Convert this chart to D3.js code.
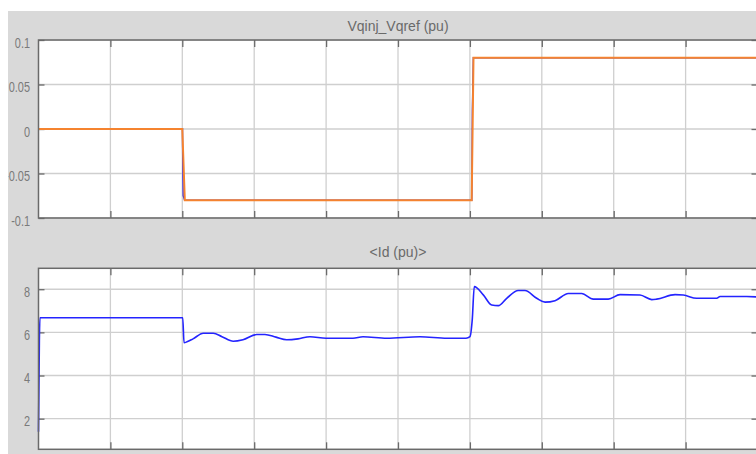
<!DOCTYPE html>
<html>
<head>
<meta charset="utf-8">
<script src="https://cdn.jsdelivr.net/npm/d3@7"></script>
<style>
  body { margin: 0; background: #fff; }
  svg { display: block; }
  text { font-family: "Liberation Sans", Arial, sans-serif; }
</style>
</head>
<body>
<script>
// time axis (s), 10 grid divisions, no labels shown
var time_ticks = [0.1, 0.2, 0.3, 0.4, 0.5, 0.6, 0.7, 0.8, 0.9];

// top plot: Vqinj (blue) and Vqref (orange)
var top_title = 'Vqinj_Vqref (pu)';
var top_ticks = [-0.1, -0.05, 0, 0.05, 0.1];
var top_tick_labels = ['-0.1', '-0.05', '0', '0.05', '0.1'];
var vqref_t = [0, 0.2, 0.2035, 0.6025, 0.605, 1.0];
var vqref_v = [0, 0, -0.08, -0.08, 0.08, 0.08];
var vqinj_t = [0, 0.2003, 0.2004, 0.2012, 0.2032, 0.6026, 0.6027, 0.6034, 0.6048, 1.0];
var vqinj_v = [0, 0, -0.02, -0.075, -0.08, -0.08, -0.07, 0.02, 0.08, 0.08];

// bottom plot: Id
var bot_title = '<Id (pu)>';
var bot_ticks = [2, 4, 6, 8];
var bot_tick_labels = ['2', '4', '6', '8'];
var id_t = [0, 0.0012, 0.002, 0.2006, 0.2024, 0.2065, 0.2149, 0.2292, 0.2431, 0.2552,
  0.2709, 0.2844, 0.3035, 0.315, 0.3303, 0.3452, 0.3609, 0.3776, 0.3999, 0.4374,
  0.4513, 0.4843, 0.5306, 0.5682, 0.5946, 0.6001, 0.6033, 0.6061, 0.6186, 0.6303,
  0.6395, 0.6512, 0.6673, 0.6766, 0.6929, 0.7045, 0.7184, 0.7369, 0.7555, 0.7716,
  0.7925, 0.8088, 0.8366, 0.8529, 0.8598, 0.8853, 0.8968, 0.9154, 0.9433, 0.9479,
  0.985, 1.0];
var id_v = [1.39, 5.6, 6.68, 6.68, 5.52, 5.56, 5.7, 5.96, 5.96, 5.8,
  5.59, 5.66, 5.9, 5.9, 5.78, 5.66, 5.7, 5.8, 5.73, 5.73,
  5.8, 5.73, 5.8, 5.73, 5.73, 5.8, 6.6, 8.12, 7.74, 7.27,
  7.24, 7.58, 7.94, 7.94, 7.58, 7.4, 7.47, 7.8, 7.8, 7.54,
  7.54, 7.75, 7.73, 7.52, 7.54, 7.75, 7.73, 7.58, 7.58, 7.66,
  7.66, 7.64];

var W = 756, H = 454;
var left = 38.5, right = 757.5;
var squeeze = 0.78; // scope tick font is narrow

var svg = d3.select('body').append('svg')
  .attr('width', W).attr('height', H);

// grey scope background
svg.append('rect')
  .attr('x', 8).attr('y', 11).attr('width', W - 8).attr('height', H - 11)
  .attr('fill', '#d9d9d9');

svg.append('clipPath').attr('id', 'panel')
  .append('rect').attr('x', 8).attr('y', 11).attr('width', W - 8).attr('height', H - 11);

var x = d3.scaleLinear().domain([0, 1]).range([left, right]);

function zip(ts, vs) {
  return ts.map(function(t, i) { return [t, vs[i]]; });
}

function draw_plot(top, bottom, domain, ticks, labels, title, titleY, series) {
  var y = d3.scaleLinear().domain(domain).range([bottom, top]);
  var g = svg.append('g').attr('clip-path', 'url(#panel)');

  g.append('rect')
    .attr('x', left).attr('y', top)
    .attr('width', right - left).attr('height', bottom - top)
    .attr('fill', '#fff');

  // grid
  g.append('g').selectAll('line').data(time_ticks).enter().append('line')
    .attr('x1', d => x(d)).attr('x2', d => x(d))
    .attr('y1', top).attr('y2', bottom)
    .attr('stroke', '#cfcfcf').attr('stroke-width', 1.3);
  g.append('g').selectAll('line').data(ticks).enter().append('line')
    .attr('x1', left).attr('x2', right)
    .attr('y1', d => y(d)).attr('y2', d => y(d))
    .attr('stroke', '#cfcfcf').attr('stroke-width', 1.3);

  // axes with inward ticks
  var yl = g.append('g').attr('transform', 'translate(' + left + ',0)')
    .call(d3.axisLeft(y).tickValues(ticks).tickSize(-6).tickPadding(9)
      .tickFormat(function(d, i) { return labels[i]; }));
  var yr = g.append('g').attr('transform', 'translate(' + right + ',0)')
    .call(d3.axisRight(y).tickValues(ticks).tickSize(-6).tickFormat(''));
  var xt = g.append('g').attr('transform', 'translate(0,' + top + ')')
    .call(d3.axisTop(x).tickValues(time_ticks).tickSize(-7).tickFormat(''));
  var xb = g.append('g').attr('transform', 'translate(0,' + bottom + ')')
    .call(d3.axisBottom(x).tickValues(time_ticks).tickSize(-7).tickFormat(''));
  [yl, yr, xt, xb].forEach(function(a) {
    a.select('.domain').remove();
    a.selectAll('.tick line').attr('stroke', '#6a6a6a').attr('stroke-width', 1.3);
  });
  yl.selectAll('.tick text')
    .attr('fill', '#7a7a7a').attr('font-size', 14)
    .attr('x', -8.5 / squeeze).attr('dy', '0.52em')
    .attr('transform', 'scale(' + squeeze + ',1)');

  var line = d3.line().x(d => x(d[0])).y(d => y(d[1]));
  series.forEach(function(s) {
    g.append('path').datum(s.data)
      .attr('d', line.curve(s.curve || d3.curveLinear))
      .attr('fill', 'none')
      .attr('stroke', s.color)
      .attr('stroke-width', s.width);
  });

  // box
  g.append('rect')
    .attr('x', left).attr('y', top)
    .attr('width', right - left).attr('height', bottom - top)
    .attr('fill', 'none').attr('stroke', '#6a6a6a').attr('stroke-width', 1.5);

  g.append('text').text(title)
    .attr('x', (left + right) / 2).attr('y', titleY)
    .attr('text-anchor', 'middle').attr('fill', '#6a6a6a').attr('font-size', 14);
}

draw_plot(40, 218, [-0.1, 0.1], top_ticks, top_tick_labels, top_title, 30.5, [
  {data: zip(vqinj_t, vqinj_v), color: '#3a2fe0', width: 1.4},
  {data: zip(vqref_t, vqref_v), color: '#f5832f', width: 2}
]);

draw_plot(268.3, 449.3, [0.58, 8.97], bot_ticks, bot_tick_labels, bot_title, 257, [
  {data: zip(id_t, id_v), color: '#2424ff', width: 1.6, curve: d3.curveMonotoneX}
]);
</script>
</body>
</html>
